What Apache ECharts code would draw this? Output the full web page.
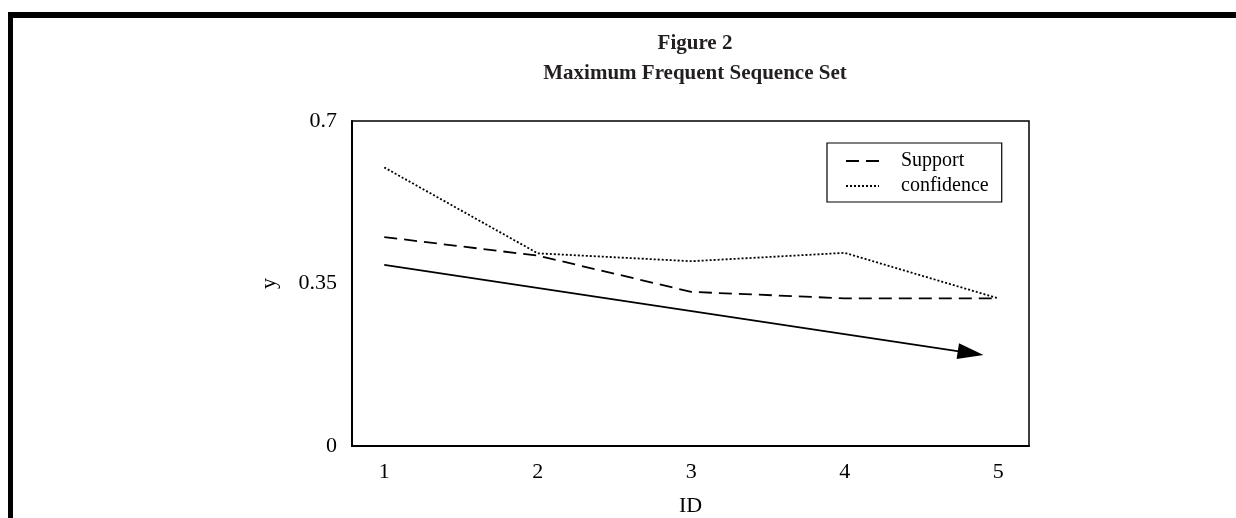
<!DOCTYPE html>
<html><head><meta charset="utf-8">
<script src="https://cdn.jsdelivr.net/npm/echarts@6/dist/echarts.min.js"></script>
<style>html,body{margin:0;padding:0;background:#fff}#c{width:1236px;height:518px}</style>
</head><body><div id="c"></div>
<script>
// ---- data ----
const idTicks = [1, 2, 3, 4, 5];
const yTicks = [0, 0.35, 0.7];
const supportValues = [0.45, 0.41, 0.332, 0.318, 0.318];
const confidenceValues = [0.6, 0.415, 0.398, 0.416, 0.318];
const trendStart = [1, 0.39];
const trendEnd = [4.82, 0.2];

const serif = '"Liberation Serif", "Times New Roman", serif';
const pairs = arr => idTicks.map((x, i) => [x, arr[i]]);

const chart = echarts.init(document.getElementById('c'), null, {renderer: 'canvas'});
const arrowPath = 'path://M0,0 L8,26 L-8,26 Z M-13,26 L-13,26 M13,26 L13,26';

chart.setOption({
  backgroundColor: '#fff',
  animation: false,
  title: {
    text: 'Figure 2\nMaximum Frequent Sequence Set',
    left: 690, top: 24, textAlign: 'center',
    textStyle: {fontFamily: serif, fontSize: 21, fontWeight: 'bold', color: '#231f20', lineHeight: 30}
  },
  graphic: [
    {type: 'rect', shape: {x: 8, y: 12, width: 1228, height: 6}, style: {fill: '#000'}, z: 100},
    {type: 'rect', shape: {x: 8, y: 12, width: 5, height: 506}, style: {fill: '#000'}, z: 100}
  ],
  legend: {
    orient: 'vertical', left: 827, top: 143,
    backgroundColor: '#fff', borderColor: '#000', borderWidth: 1.2,
    padding: [8, 13, 6, 18],
    itemWidth: 33, itemHeight: 14, itemGap: 5,
    itemStyle: {color: 'rgba(0,0,0,0)', borderWidth: 0, opacity: 0},
    textStyle: {fontFamily: serif, fontSize: 20, color: '#000', padding: [0, 0, 0, 17]},
    data: ['Support', 'confidence']
  },
  grid: {left: 352, top: 121, width: 677, height: 325, containLabel: false, outerBoundsMode: 'none',
    show: true, borderColor: '#000', borderWidth: 1.5, backgroundColor: 'transparent'},
  xAxis: {
    type: 'value', min: 0.79, max: 5.2,
    name: 'ID', nameLocation: 'middle', nameGap: 49,
    nameTextStyle: {fontFamily: serif, fontSize: 22, color: '#000'},
    axisLine: {show: true, lineStyle: {color: '#000', width: 2}},
    axisTick: {show: false},
    splitLine: {show: false},
    axisLabel: {customValues: idTicks, fontFamily: serif, fontSize: 22, color: '#000', margin: 15}
  },
  yAxis: {
    type: 'value', min: 0, max: 0.7,
    name: 'y', nameLocation: 'middle', nameGap: 72,
    nameTextStyle: {fontFamily: serif, fontSize: 22, color: '#000'},
    axisLine: {show: true, lineStyle: {color: '#000', width: 2}},
    axisTick: {show: false},
    splitLine: {show: false},
    axisLabel: {customValues: yTicks, fontFamily: serif, fontSize: 22, color: '#000', margin: 15,
      formatter: v => String(v)}
  },
  series: [
    {name: 'Support', type: 'line', data: pairs(supportValues), symbol: 'none',
      lineStyle: {color: '#000', width: 1.8, type: [13, 7]}, itemStyle: {color: '#000'}},
    {name: 'confidence', type: 'line', data: pairs(confidenceValues), symbol: 'none',
      lineStyle: {color: '#000', width: 1.8, type: [2, 2]}, itemStyle: {color: '#000'}},
    {name: 'trend', type: 'lines', coordinateSystem: 'cartesian2d',
      symbol: ['none', arrowPath], symbolSize: 26,
      lineStyle: {color: '#000', width: 1.8, opacity: 1},
      itemStyle: {color: '#000'},
      data: [{coords: [trendStart, trendEnd]}]}
  ]
});
</script></body></html>
